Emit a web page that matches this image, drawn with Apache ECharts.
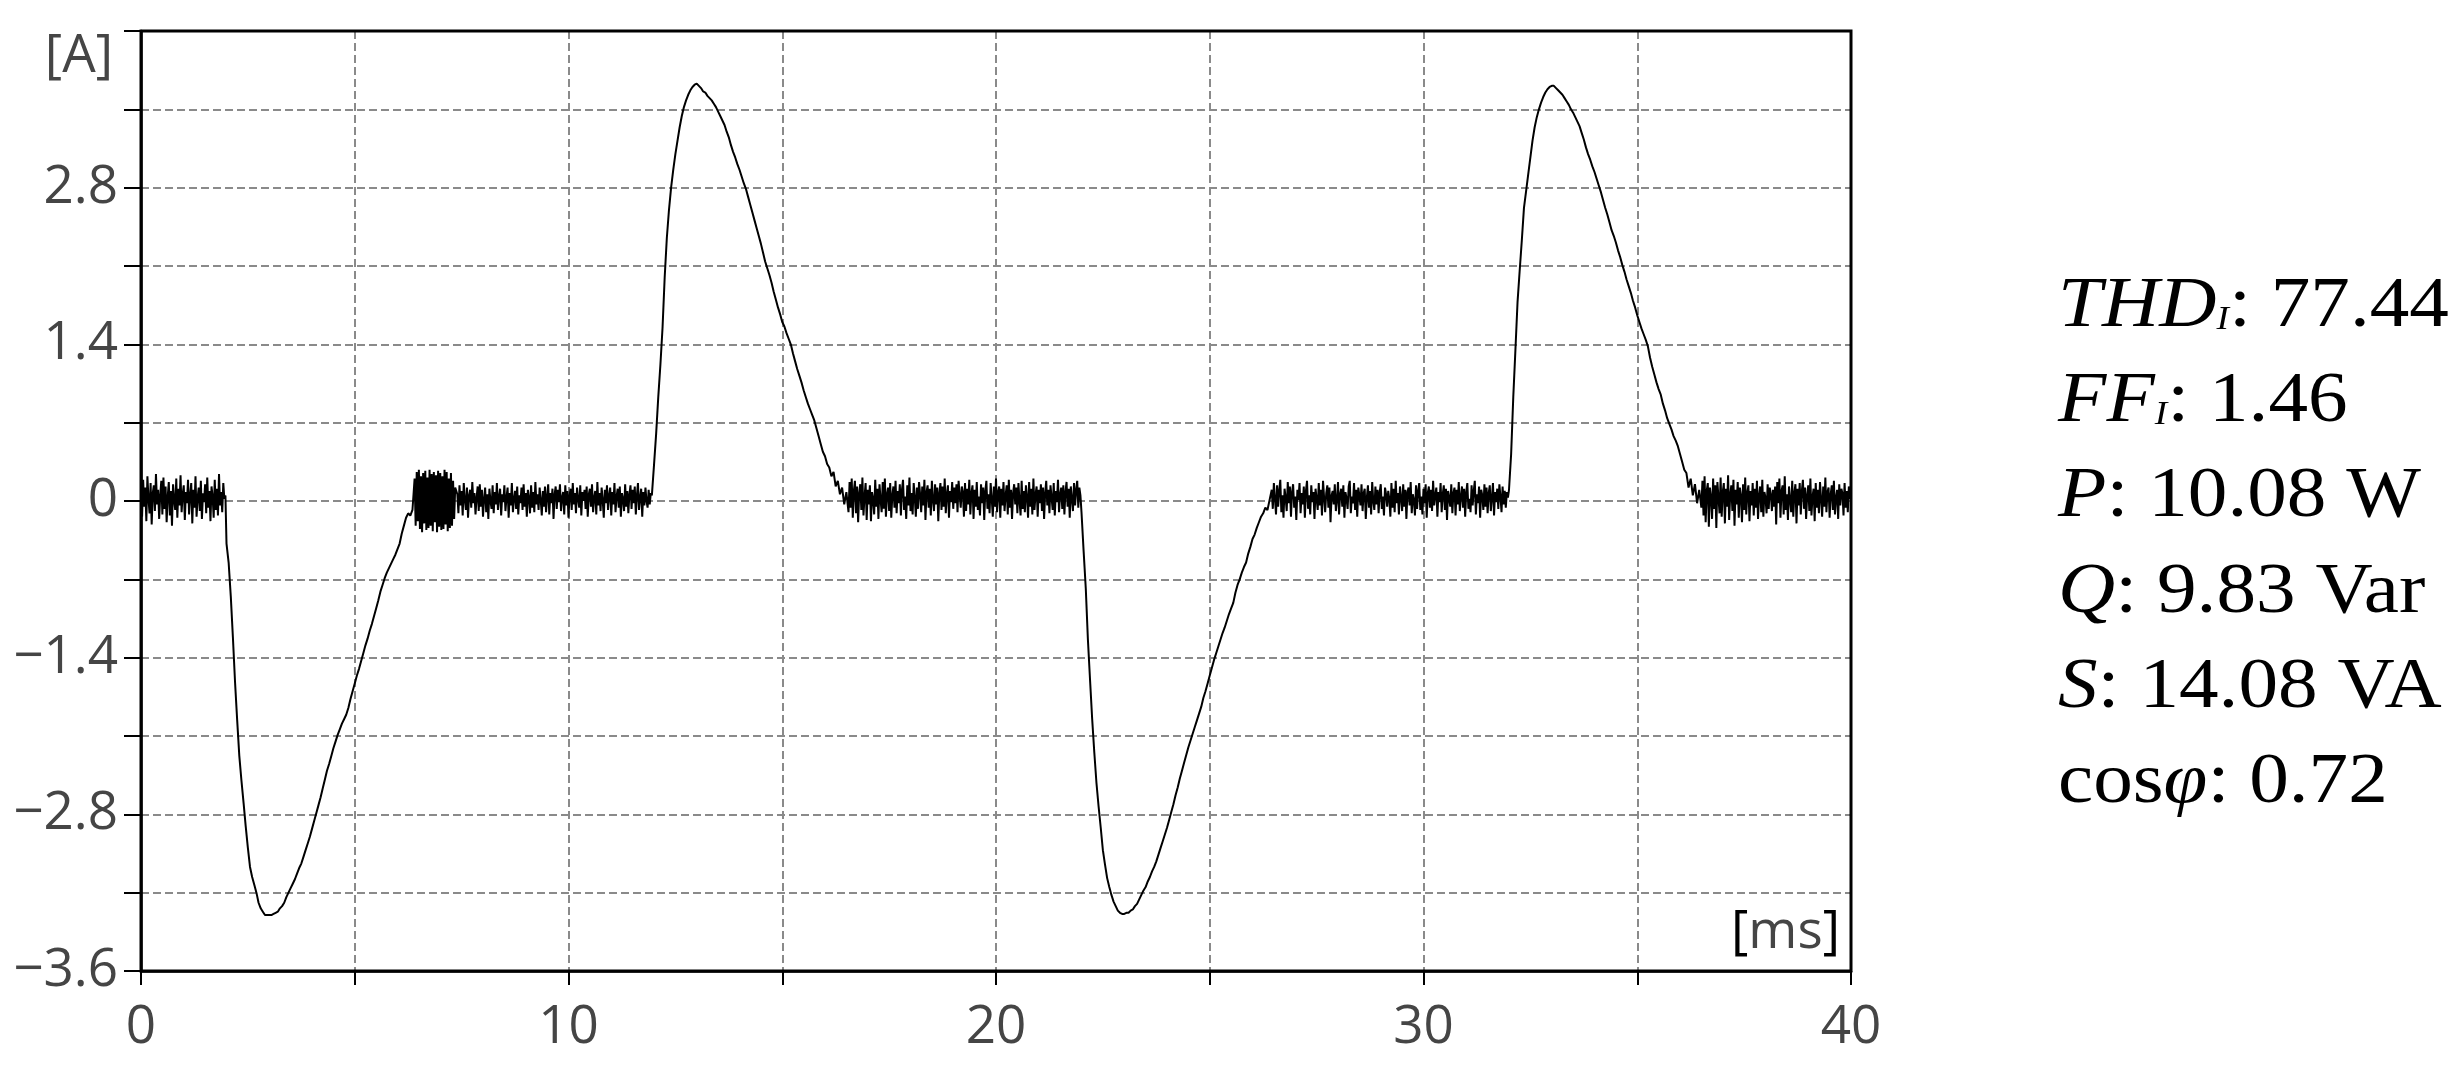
<!DOCTYPE html>
<html><head><meta charset="utf-8">
<script src="https://cdn.jsdelivr.net/npm/echarts@6/dist/echarts.min.js"></script>
<style>html,body{margin:0;padding:0;background:#fff}#c{width:2457px;height:1076px}</style>
</head><body><div id="c"></div>
<script>
// ---- data (time in ms, current in A) ----
const flat1 = [0.08,-0.14,0.19,-0.05,0.12,-0.18,0.22,0.02,-0.11,0.16,-0.21,0.07,0.14,-0.09,0.24,-0.03,0.10,-0.16,0.05,0.18,
-0.12,0.21,-0.07,0.13,-0.19,0.04,0.17,-0.13,0.09,-0.22,0.15,0.01,-0.08,0.20,-0.15,0.11,-0.04,0.23,-0.10,0.06,
0.14,-0.17,0.08,-0.02,0.19,-0.12,0.05,0.16,-0.20,0.10,-0.06,0.22,-0.14,0.03,0.12,-0.09,0.18,-0.16,0.07,-0.01,
0.15,-0.11,0.21,-0.06,0.09,-0.18,0.13,0.04,-0.15,0.19,-0.08,0.11,-0.13,0.24,-0.04,0.08,-0.10,0.16,0.02,0.05];
const neg1 = [-0.38,-0.55,-0.85,-1.22,-1.62,-1.96,-2.28,-2.50,-2.70,-2.91,-3.10,-3.27,-3.36,-3.43,-3.50,-3.59,-3.64,-3.67,-3.70,-3.70,-3.70,-3.70,-3.69,-3.68,-3.67,-3.64,-3.62,-3.59,-3.54,-3.50,-3.46,-3.42,-3.38,-3.33,-3.28,-3.24,-3.18,-3.12,-3.06,-3.00,-2.93,-2.86,-2.79,-2.72,-2.65,-2.57,-2.49,-2.41,-2.35,-2.28,-2.21,-2.15,-2.09,-2.04,-1.99,-1.95,-1.91,-1.85,-1.77,-1.70,-1.63,-1.56,-1.50,-1.43,-1.36,-1.29,-1.23,-1.16,-1.10,-1.03,-0.96,-0.89,-0.81,-0.75,-0.69,-0.64,-0.60,-0.56,-0.52,-0.48,-0.43,-0.38,-0.29,-0.22,-0.15,-0.11,-0.13,-0.08];
const burst = [0.20,-0.22,0.26,-0.18,0.28,-0.25,0.22,-0.28,0.25,-0.20,0.27,-0.26,0.21,-0.24,0.28,-0.22,0.24,-0.27,0.26,-0.19,0.23,-0.28,0.27,-0.23,0.25,-0.26,0.22,-0.25,0.28,-0.21,0.26,-0.27,0.20,-0.24,0.25,-0.22,0.18,-0.16,0.12];
const flat2 = [0.06,-0.11,0.14,-0.04,0.09,-0.13,0.16,0.01,-0.08,0.12,-0.15,0.05,0.10,-0.06,0.17,-0.02,0.07,-0.12,0.03,0.13,
-0.09,0.15,-0.05,0.10,-0.14,0.02,0.12,-0.10,0.06,-0.16,0.11,0.00,-0.07,0.14,-0.11,0.08,-0.03,0.16,-0.08,0.04,
0.11,-0.13,0.06,-0.01,0.14,-0.09,0.03,0.12,-0.15,0.07,-0.04,0.16,-0.10,0.02,0.09,-0.07,0.13,-0.12,0.05,-0.02,
0.12,-0.08,0.15,-0.05,0.07,-0.14,0.10,0.03,-0.11,0.14,-0.06,0.08,-0.10,0.17,-0.03,0.06,-0.08,0.12,0.01,-0.13,
0.09,-0.05,0.13,-0.10,0.04,0.15,-0.12,0.07,-0.02,0.11,-0.16,0.06,0.13,-0.07,0.10,-0.01,0.15,-0.09,0.03,0.08,
-0.12,0.14,-0.04,0.09,-0.15,0.05,0.11,-0.08,0.16,-0.03,0.07,-0.11,0.12,0.02,-0.06,0.14,-0.13,0.08,0.00,0.10,
-0.07,0.13,-0.14,0.06,0.11,-0.05,0.15,-0.10,0.03,0.09,-0.12,0.17,-0.04,0.07,-0.09,0.12,0.01,-0.15,0.10,-0.02,
0.14,-0.08,0.05,0.12,-0.13,0.08,-0.03,0.16,-0.10,0.04,0.11,-0.06,0.13,-0.14,0.07,0.02,-0.09,0.15,-0.05,0.09,
-0.11,0.06,0.14,-0.07,0.10,-0.02,0.13,-0.12,0.05,0.16,-0.08,0.03,0.11,-0.14,0.08,-0.04,0.12,0.00,-0.06,0.10,
-0.03,0.07];
const pos1 = [0.05,0.32,0.60,0.93,1.22,1.55,2.00,2.35,2.60,2.80,2.96,3.10,3.22,3.34,3.44,3.52,3.58,3.63,3.67,3.70,3.72,3.73,3.71,3.69,3.66,3.65,3.62,3.60,3.58,3.55,3.52,3.48,3.44,3.40,3.36,3.30,3.25,3.18,3.12,3.07,3.01,2.96,2.90,2.84,2.79,2.72,2.65,2.58,2.51,2.44,2.37,2.30,2.22,2.14,2.08,2.02,1.95,1.87,1.80,1.73,1.67,1.60,1.56,1.50,1.45,1.40,1.32,1.25,1.18,1.12,1.06,0.99,0.93,0.87,0.82,0.77,0.72,0.65,0.58,0.51,0.44,0.40,0.33,0.30,0.22,0.26,0.13,0.18,0.06,0.12,-0.03,0.08];
const flat3 = [-0.10,0.17,-0.06,0.20,-0.15,0.09,0.18,-0.11,0.13,-0.19,0.07,0.15,-0.08,0.21,-0.13,0.04,0.16,-0.17,0.10,-0.03,
0.14,-0.18,0.08,0.02,-0.12,0.19,-0.05,0.11,-0.16,0.15,0.01,-0.10,0.17,-0.07,0.20,-0.14,0.06,0.12,-0.09,0.16,
-0.15,0.05,0.13,-0.06,0.18,-0.11,0.09,-0.02,0.15,-0.13,0.10,0.19,-0.08,0.04,-0.16,0.14,-0.04,0.21,-0.09,0.07,
-0.12,0.16,0.03,-0.14,0.12,-0.07,0.17,0.06,-0.10,0.13,-0.04,0.19,-0.17,0.08,0.14,-0.06,0.11,-0.13,0.18,0.01,
-0.09,0.15,-0.03,0.12,-0.18,0.07,0.16,-0.08,0.13,-0.05,0.20,-0.11,0.06,0.14,-0.15,0.09,-0.01,0.17,-0.07,0.12,
-0.02,0.15,-0.10,0.18,0.05,-0.06,0.13,0.08,-0.14,0.16,-0.09,0.11,-0.03,0.19,-0.12,0.07,0.14,-0.16,0.10,-0.05,
0.17,-0.08,0.04,-0.13,0.15,-0.02,0.12,-0.17,0.09,0.18,-0.07,0.06,-0.11,0.16,0.02,-0.14,0.13,-0.05,0.20,-0.10,
0.08,0.13,-0.15,0.11,-0.04,0.17,-0.09,0.05,0.14,-0.12,0.19,-0.06,0.10,-0.16,0.07,0.15,-0.03,0.12,-0.11,0.16,
0.00,-0.13,0.18,-0.07,0.09,-0.10,0.14,0.04,-0.15,0.17,-0.05,0.11,-0.12,0.20,-0.08,0.06,0.13,-0.14,0.10,-0.02,
0.15,-0.09,0.12,-0.16,0.07,0.18,-0.04,0.10,-0.11,0.14,0.03,-0.08,0.16,-0.13,0.09,-0.01,0.19,-0.10,0.06,0.12,
-0.07,0.14,-0.12,0.08,0.17,-0.05,0.11,-0.15,0.13,0.02,-0.09,0.16,-0.04,0.10,0.18,-0.06,0.12,0.05];
const neg2 = [-0.10,-0.45,-0.78,-1.24,-1.60,-1.95,-2.25,-2.52,-2.73,-2.92,-3.12,-3.25,-3.37,-3.45,-3.52,-3.58,-3.62,-3.66,-3.68,-3.69,-3.69,-3.68,-3.68,-3.66,-3.65,-3.62,-3.60,-3.56,-3.52,-3.48,-3.45,-3.40,-3.36,-3.31,-3.27,-3.22,-3.16,-3.10,-3.04,-2.98,-2.92,-2.85,-2.78,-2.71,-2.63,-2.56,-2.48,-2.41,-2.34,-2.27,-2.20,-2.14,-2.08,-2.02,-1.96,-1.90,-1.84,-1.76,-1.70,-1.63,-1.56,-1.49,-1.42,-1.36,-1.30,-1.24,-1.18,-1.13,-1.07,-1.01,-0.96,-0.91,-0.82,-0.75,-0.70,-0.64,-0.59,-0.55,-0.47,-0.41,-0.34,-0.30,-0.24,-0.19,-0.14,-0.11,-0.06,-0.08,0.01];
const flat4 = [0.10,-0.07,0.16,0.02,-0.12,0.14,-0.05,0.09,0.19,-0.10,0.05,-0.15,0.11,0.03,-0.09,0.17,-0.02,0.13,-0.14,0.08,
0.15,-0.06,0.04,-0.17,0.10,0.01,0.16,-0.11,0.07,-0.03,0.13,-0.15,0.09,0.18,-0.07,0.05,-0.12,0.14,-0.01,0.08,
-0.16,0.11,0.02,-0.08,0.16,-0.04,0.10,-0.13,0.18,0.03,-0.10,0.07,0.14,-0.06,0.12,-0.19,0.05,0.09,-0.03,0.15,
-0.09,0.01,0.17,-0.12,0.06,0.11,-0.05,0.14,-0.15,0.08,0.02,-0.07,0.13,0.18,-0.11,0.04,-0.02,0.16,-0.08,0.10,
-0.14,0.12,0.05,-0.04,0.15,-0.09,0.07,0.11,-0.16,0.03,0.14,-0.06,0.09,-0.12,0.17,0.00,-0.08,0.13,-0.03,0.10,
-0.11,0.08,0.15,-0.07,0.04,-0.13,0.12,0.06,-0.05,0.09,0.02,-0.14,0.16,-0.06,0.11,-0.10,0.18,-0.02,0.07,-0.12,
0.13,0.03,-0.09,0.15,-0.05,0.10,-0.16,0.08,0.12,-0.04,0.17,-0.11,0.06,0.01,-0.13,0.14,-0.07,0.09,0.16,-0.08,
0.04,-0.12,0.11,-0.02,0.15,-0.15,0.07,0.13,-0.06,0.10,-0.09,0.18,-0.04,0.05,0.12,-0.14,0.08,-0.01,0.16,-0.10,
0.06,0.14,-0.08,0.11,-0.17,0.09,0.03,-0.05,0.15,-0.11,0.07,0.12,-0.13,0.10,-0.03,0.17,-0.09,0.04,0.13,-0.06,
0.11,-0.14,0.08,0.16,-0.07,0.02,-0.10,0.14,-0.04,0.09,0.18,-0.12,0.06,-0.02,0.13,-0.15,0.10,0.05,-0.08,0.15,
-0.05,0.12,-0.11,0.07,0.14,-0.09,0.03,0.16,-0.13,0.08,-0.01,0.11,-0.07,0.15,0.04,-0.10,0.13,-0.03,0.09,-0.06,
0.08,0.03];
const pos2 = [0.10,0.42,0.93,1.35,1.78,2.06,2.33,2.62,2.77,2.92,3.07,3.22,3.34,3.43,3.50,3.56,3.61,3.65,3.68,3.70,3.71,3.71,3.69,3.67,3.65,3.63,3.60,3.57,3.54,3.50,3.47,3.43,3.39,3.35,3.29,3.23,3.16,3.10,3.05,2.99,2.94,2.88,2.82,2.76,2.69,2.62,2.56,2.49,2.42,2.37,2.31,2.24,2.18,2.11,2.05,1.98,1.92,1.86,1.79,1.73,1.66,1.60,1.54,1.49,1.44,1.38,1.28,1.20,1.13,1.06,1.00,0.95,0.87,0.81,0.74,0.69,0.64,0.58,0.54,0.49,0.42,0.35,0.28,0.25,0.12,0.20,0.05,0.15,-0.02,0.10];
const flat5 = [-0.06,0.18,-0.13,0.22,-0.19,0.09,0.16,-0.23,0.12,0.04,-0.16,0.20,-0.07,0.14,-0.24,0.17,0.03,-0.11,0.21,-0.14,
0.08,0.16,-0.20,0.11,-0.05,0.23,-0.17,0.06,0.14,-0.09,0.19,-0.22,0.10,-0.03,0.17,-0.15,0.12,0.05,-0.19,0.15,
-0.08,0.21,-0.12,0.07,0.14,-0.18,0.09,-0.04,0.16,-0.13,0.11,-0.06,0.18,-0.16,0.05,0.13,-0.10,0.19,-0.14,0.08,
0.03,-0.11,0.15,-0.07,0.12,0.06,-0.09,0.10,-0.05,0.13,-0.21,0.17,-0.02,0.20,-0.15,0.09,0.14,-0.12,0.22,-0.08,
0.06,-0.17,0.13,0.01,-0.10,0.18,-0.14,0.07,0.15,-0.20,0.11,-0.04,0.16,-0.12,0.09,0.19,-0.07,0.12,-0.16,0.05,
0.14,-0.09,0.20,-0.13,0.04,0.11,-0.18,0.16,-0.06,0.10,-0.11,0.17,0.02,-0.14,0.13,-0.05,0.21,-0.10,0.08,0.12,
-0.15,0.06,0.14,-0.08,0.18,-0.12,0.03,0.10,-0.16,0.15,-0.04,0.11,0.07,-0.13,0.16,-0.06,0.09,-0.10,0.13,0.02,
0.05];

// segment start time (ms), sample step (ms), values
const segments = [
  [0.00, 0.025, flat1], [2.00, 0.05, neg1], [6.40, 0.025, burst], [7.40, 0.025, flat2],
  [11.95, 0.05, pos1], [16.55, 0.025, flat3], [22.00, 0.05, neg2], [26.45, 0.025, flat4],
  [32.00, 0.05, pos2], [36.50, 0.025, flat5]
];

const xTickLabels = ['0', '10', '20', '30', '40'];
const yTickLabels = {'2.8': '2.8', '1.4': '1.4', '0': '0', '-1.4': '\u22121.4', '-2.8': '\u22122.8', '-4.2': '\u22123.6'};
const yUnit = '[A]';
const xUnit = 'ms';
const stats = [
  ['i', 'THD', 's', 'I', 'n', ': 77.44'],
  ['i', 'FF', 's', 'I', 'n', ': 1.46'],
  ['i', 'P', 'n', ': 10.08 W'],
  ['i', 'Q', 'n', ': 9.83 Var'],
  ['i', 'S', 'n', ': 14.08 VA'],
  ['n', 'cos', 'i', '\u03C6', 'n', ': 0.72']
];

// ---- build ----
const seriesData = [];
segments.forEach(([t0, dt, vals]) => {
  vals.forEach((v, j) => seriesData.push([+(t0 + j * dt).toFixed(4), v]));
});

const labelColor = '#454545';
const labelFont = 'Open Sans';
const serif = 'Liberation Serif';

const statBaselines = [327, 422, 517, 613, 708, 803];
const statGraphics = stats.map((parts, k) => {
  let txt = '';
  for (let p = 0; p < parts.length; p += 2) txt += '{' + parts[p] + '|' + parts[p + 1] + '}';
  return {
    type: 'text', x: 2058, y: statBaselines[k] + 15.6, scaleX: 1.1, scaleY: 1,
    style: {
      text: txt, align: 'left', verticalAlign: 'bottom',
      rich: {
        i: {fontFamily: serif, fontStyle: 'italic', fontSize: 72, fill: '#000', verticalAlign: 'bottom', lineHeight: 80},
        n: {fontFamily: serif, fontSize: 72, fill: '#000', verticalAlign: 'bottom', lineHeight: 80},
        s: {fontFamily: serif, fontStyle: 'italic', fontSize: 34, fill: '#000', verticalAlign: 'bottom', lineHeight: 80, padding: [0, 0, 6, 0]}
      }
    }
  };
});

const gridLine = {show: true, showMinLine: false, showMaxLine: false, lineStyle: {color: '#8a8a8a', width: 2, type: [8, 4]}};

const chart = echarts.init(document.getElementById('c'), null, {renderer: 'canvas'});
chart.setOption({
  animation: false,
  backgroundColor: '#fff',
  grid: {left: 141, right: 606, top: 31, bottom: 105, containLabel: false,
         show: true, z: 10, backgroundColor: 'transparent', borderColor: '#000', borderWidth: 3},
  xAxis: {
    type: 'value', min: 0, max: 40, interval: 5, position: 'bottom', z: 4,
    axisLine: {onZero: false, lineStyle: {color: '#000', width: 2.5}},
    axisTick: {show: true, length: 14, lineStyle: {color: '#000', width: 2}},
    axisLabel: {
      margin: 30, color: labelColor, fontFamily: labelFont, fontSize: 53,
      formatter: v => { const r = Math.round(v); return (r % 10 === 0 && xTickLabels.includes(String(r))) ? String(r) : ''; }
    },
    splitLine: gridLine
  },
  yAxis: {
    type: 'value', min: -4.2, max: 4.2, interval: 0.7, position: 'left', z: 4,
    axisLine: {onZero: false, lineStyle: {color: '#000', width: 2.5}},
    axisTick: {show: true, length: 17, lineStyle: {color: '#000', width: 2}},
    axisLabel: {
      margin: 23, color: labelColor, fontFamily: labelFont, fontSize: 53,
      formatter: v => { const key = String(+(+v).toFixed(1)); return yTickLabels[key] !== undefined ? yTickLabels[key] : ''; }
    },
    splitLine: gridLine
  },
  series: [{
    type: 'line', data: seriesData, showSymbol: false, symbol: 'none', sampling: null,
    lineStyle: {color: '#000', width: 2}, z: 5
  }],
  graphic: [
    {type: 'text', x: 113, y: 57, style: {text: yUnit, align: 'right', verticalAlign: 'middle', fontFamily: labelFont, fontSize: 53, fill: labelColor}},
    {type: 'text', x: 1840, y: 933, style: {
      text: '{b|[}{m|' + xUnit + '}{b|]}', align: 'right', verticalAlign: 'middle',
      rich: {b: {fontFamily: labelFont, fontSize: 53, fill: '#000'}, m: {fontFamily: labelFont, fontSize: 53, fill: labelColor}}
    }}
  ].concat(statGraphics)
});
</script>
</body></html>
